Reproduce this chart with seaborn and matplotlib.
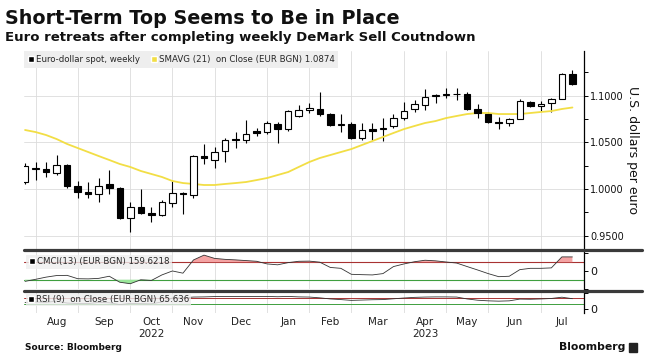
import numpy as np
import pandas as pd
import matplotlib
matplotlib.use("Agg")
import matplotlib.pyplot as plt
import seaborn as sns
from matplotlib.patches import Patch, Rectangle
from matplotlib.lines import Line2D

# weekly bars (Friday dates)
dates = pd.date_range("2022-07-22", periods=53, freq="7D")

opens = [1.0076, 1.0215, 1.0215, 1.0172, 1.0258, 1.0033, 0.9969, 0.9948, 1.0055, 1.0012,
         0.9690, 0.9808, 0.9744, 0.9723, 0.9851, 0.9958, 0.9940, 1.0354, 1.0312, 1.0408,
         1.0537, 1.0526, 1.0622, 1.0611, 1.0697, 1.0643, 1.0783, 1.0847, 1.0858, 1.0804,
         1.0686, 1.0697, 1.0547, 1.0643, 1.0643, 1.0676, 1.0761, 1.0858, 1.0900, 1.0997,
         1.1007, 1.1018, 1.1018, 1.0858, 1.0804, 1.0718, 1.0708, 1.0751, 1.0933, 1.0890,
         1.0922, 1.0965, 1.1232]
highs = [1.0279, 1.0290, 1.0290, 1.0365, 1.0269, 1.0087, 1.0076, 1.0119, 1.0204, 1.0022,
         0.9862, 1.0001, 0.9808, 0.9883, 1.0087, 0.9969, 1.0365, 1.0483, 1.0451, 1.0547,
         1.0611, 1.0740, 1.0654, 1.0729, 1.0719, 1.0847, 1.0900, 1.0922, 1.1040, 1.0815,
         1.0804, 1.0719, 1.0708, 1.0708, 1.0761, 1.0804, 1.0933, 1.0954, 1.1073, 1.1018,
         1.1083, 1.1083, 1.1040, 1.0911, 1.0826, 1.0772, 1.0761, 1.0965, 1.0943, 1.0943,
         1.0975, 1.1244, 1.1276]
lows = [1.0055, 1.0097, 1.0130, 1.0151, 1.0012, 0.9905, 0.9905, 0.9862, 0.9948, 0.9680,
        0.9541, 0.9733, 0.9648, 0.9712, 0.9808, 0.9733, 0.9905, 1.0269, 1.0226, 1.0290,
        1.0440, 1.0494, 1.0569, 1.0590, 1.0494, 1.0622, 1.0772, 1.0815, 1.0783, 1.0675,
        1.0611, 1.0537, 1.0526, 1.0526, 1.0515, 1.0654, 1.0740, 1.0826, 1.0847, 1.0922,
        1.0975, 1.0954, 1.0847, 1.0761, 1.0708, 1.0643, 1.0676, 1.0751, 1.0879, 1.0836,
        1.0826, 1.0965, 1.1115]
closes = [1.0247, 1.0222, 1.0183, 1.0258, 1.0033, 0.9969, 0.9948, 1.0033, 1.0012, 0.9690,
          0.9808, 0.9744, 0.9723, 0.9862, 0.9958, 0.9950, 1.0354, 1.0330, 1.0397, 1.0526,
          1.0526, 1.0590, 1.0601, 1.0708, 1.0643, 1.0836, 1.0847, 1.0868, 1.0804, 1.0686,
          1.0692, 1.0547, 1.0633, 1.0622, 1.0654, 1.0761, 1.0836, 1.0911, 1.0986, 1.1005,
          1.1018, 1.1020, 1.0858, 1.0815, 1.0718, 1.0712, 1.0751, 1.0943, 1.0890, 1.0911,
          1.0965, 1.1232, 1.1125]
smavg = [1.0633, 1.0611, 1.0579, 1.0536, 1.0483, 1.0440, 1.0397, 1.0354, 1.0312, 1.0269,
         1.0237, 1.0194, 1.0162, 1.0130, 1.0087, 1.0065, 1.0055, 1.0044, 1.0044, 1.0055,
         1.0065, 1.0076, 1.0097, 1.0119, 1.0151, 1.0183, 1.0237, 1.0290, 1.0333, 1.0365,
         1.0397, 1.0429, 1.0472, 1.0515, 1.0558, 1.0601, 1.0643, 1.0676, 1.0708, 1.0729,
         1.0761, 1.0783, 1.0804, 1.0815, 1.0815, 1.0804, 1.0804, 1.0804, 1.0815, 1.0826,
         1.0836, 1.0858, 1.0874]
cmci = [-118, -95, -70, -52, -50, -88, -90, -84, -60, -128,
        -145, -100, -108, -45, 0, -25, 125, 180, 143, 132,
        126, 118, 110, 80, 70, 95, 110, 112, 100, 40,
        30, -38, -42, -45, -30, 50, 80, 105, 122, 115,
        102, 90, 50, 11, -30, -65, -60, 15, 30, 30,
        35, 160, 159.6]
rsi = [42, 45, 43, 50, 38, 35, 35, 42, 40, 28,
       36, 34, 33, 45, 70, 71, 76, 77, 79, 80,
       80, 80, 80, 80, 78, 80, 77, 76, 71, 64,
       60, 55, 57, 59, 60, 65, 70, 74, 76, 77,
       77, 76, 64, 56, 52, 50, 52, 63, 62, 64,
       67, 75, 65.6]

sns.set_theme(style="white")
plt.rcParams["font.family"] = ["DejaVu Sans"]

W, H = 669, 363
fig = plt.figure(figsize=(W / 100, H / 100), dpi=100)
L, R = 24, 584
ax = fig.add_axes([L / W, 1 - 250 / H, (R - L) / W, 199 / H])
ax2 = fig.add_axes([L / W, 1 - 289 / H, (R - L) / W, 38 / H])
ax3 = fig.add_axes([L / W, 1 - 313 / H, (R - L) / W, 21 / H])

x = np.arange(len(dates))
o = np.array(opens)
c = np.array(closes)
up = c >= o

# month boundaries on the weekly index
ext = pd.date_range(dates[0], periods=len(dates) + 1, freq="7D")
month_starts = pd.date_range("2022-08-01", "2023-08-01", freq="MS")
bounds = np.array([(ext < m).sum() - 1 for m in month_starts])
mids = (bounds[:-1] + bounds[1:]) / 2
mlabels = [m.strftime("%b") for m in month_starts[:-1]]
mlabels = [lab + "\n2022" if lab == "Oct" else lab + "\n2023" if lab == "Apr" else lab
           for lab in mlabels]

for a in (ax, ax2, ax3):
    a.set_xlim(-0.1, 53.1)
    a.set_facecolor("white")
    for s in ("left", "top", "bottom"):
        a.spines[s].set_visible(False)
    a.spines["right"].set_color("black")
    a.spines["right"].set_linewidth(0.9)
    a.yaxis.tick_right()
    a.set_xticks(bounds[:-1])
    a.tick_params(axis="x", which="major", length=0, labelbottom=False)
    a.tick_params(axis="y", which="both", direction="out", length=3, width=0.7,
                  color="black", labelsize=7, pad=1.5, labelcolor="#111111")
    a.grid(axis="x", color="#dcdcdc", lw=0.6)

# candles
ax.vlines(x, lows, highs, color="black", lw=0.8, zorder=2)
ax.bar(x[up], (c - o)[up], bottom=o[up], width=0.62, facecolor="white",
       edgecolor="black", lw=0.8, zorder=3)
ax.bar(x[~up], (o - c)[~up], bottom=c[~up], width=0.62, facecolor="black",
       edgecolor="black", lw=0.8, zorder=3)
sns.lineplot(x=x, y=smavg, ax=ax, color="#f2de45", lw=1.3, zorder=2.5)

ax.set_ylim(0.9348, 1.1479)
ax.set_yticks([0.95, 1.0, 1.05, 1.10])
ax.set_yticks([0.975, 1.025, 1.075, 1.125], minor=True)
ax.set_yticklabels(["0.9500", "1.0000", "1.0500", "1.1000"])
ax.grid(axis="y", which="major", color="#dcdcdc", lw=0.6)
ax.set_ylabel("U.S. dollars per euro", rotation=-90, labelpad=11, fontsize=9,
              color="#111111")
ax.yaxis.set_label_position("right")

leg = ax.legend(handles=[Patch(facecolor="black"), Patch(facecolor="#f2de45")],
                labels=["Euro-dollar spot, weekly", "SMAVG (21)  on Close (EUR BGN) 1.0874"],
                loc="upper left", bbox_to_anchor=(0, 1.0), borderaxespad=0, ncol=2,
                fontsize=6.2, handlelength=0.7, handleheight=0.7, handletextpad=0.2,
                columnspacing=1.3, borderpad=0.45, frameon=True, fancybox=False)
leg.get_frame().set_facecolor("#eeeeee")
leg.get_frame().set_edgecolor("none")
leg.get_frame().set_alpha(1)

# CMCI panel
cm = np.array(cmci, dtype=float)
ax2.axhline(100, color="#a83232", lw=0.8, zorder=1)
ax2.axhline(-100, color="#3f9f3f", lw=0.8, zorder=1)
ax2.fill_between(x, cm, 100, where=cm > 100, interpolate=True, color="#f4a3a3", lw=0)
ax2.fill_between(x, cm, -100, where=cm < -100, interpolate=True, color="#99e699", lw=0)
sns.lineplot(x=x, y=cm, ax=ax2, color="#333333", lw=0.6)
ax2.set_ylim(-205, 227)
ax2.set_yticks([-200, 0, 200])
ax2.set_yticklabels(["", "0", ""], fontsize=8)
ax2.set_ylabel("")
leg2 = ax2.legend(handles=[Patch(facecolor="black")], labels=["CMCI(13) (EUR BGN) 159.6218"],
                  loc="center left", bbox_to_anchor=(0.004, 0.72), borderaxespad=0,
                  fontsize=6.2, handlelength=0.7, handleheight=0.7, handletextpad=0.2,
                  borderpad=0.3, frameon=True, fancybox=False)
leg2.get_frame().set_facecolor("#eeeeee")
leg2.get_frame().set_edgecolor("none")

# RSI panel
ax3.axhline(70, color="#a83232", lw=0.7, zorder=1)
ax3.axhline(30, color="#3f9f3f", lw=0.7, zorder=1)
sns.lineplot(x=x, y=rsi, ax=ax3, color="#333333", lw=0.6)
ax3.set_ylim(-25, 108)
ax3.set_yticks([0, 100])
ax3.set_yticklabels(["0", ""], fontsize=8)
ax3.set_ylabel("")
leg3 = ax3.legend(handles=[Patch(facecolor="black")], labels=["RSI (9)  on Close (EUR BGN) 65.636"],
                  loc="center left", bbox_to_anchor=(0.004, 0.62), borderaxespad=0,
                  fontsize=6.2, handlelength=0.7, handleheight=0.7, handletextpad=0.2,
                  borderpad=0.2, frameon=True, fancybox=False)
leg3.get_frame().set_facecolor("#eeeeee")
leg3.get_frame().set_edgecolor("none")

ax3.set_xticks(mids, minor=True)
ax3.set_xticklabels(mlabels, minor=True, fontsize=7.5, color="#222222", linespacing=1.2)
ax3.tick_params(axis="x", which="minor", length=0, pad=3, labelbottom=True)

# panel separators
for yy in (250, 290.5):
    fig.add_artist(Line2D([L / W, 642 / W], [1 - yy / H] * 2, color="#3a3a3a", lw=2.3))

fig.text(5 / W, 1 - 18 / H, "Short-Term Top Seems to Be in Place", fontsize=13.8,
         fontweight="bold", va="center", color="#111111")
fig.text(5 / W, 1 - 38 / H, "Euro retreats after completing weekly DeMark Sell Coutndown",
         fontsize=9.5, fontweight="bold", va="center", color="#111111")
fig.text(25 / W, 1 - 348 / H, "Source: Bloomberg", fontsize=6.5, fontweight="bold",
         va="center", color="#111111")
fig.text(625 / W, 1 - 347 / H, "Bloomberg", fontsize=7.8, fontweight="bold",
         va="center", ha="right", color="#111111")
fig.add_artist(Rectangle((629 / W, 1 - 352 / H), 8 / W, 9 / H, color="#222222",
                         transform=fig.transFigure))

fig.savefig("out.png", dpi=100)
